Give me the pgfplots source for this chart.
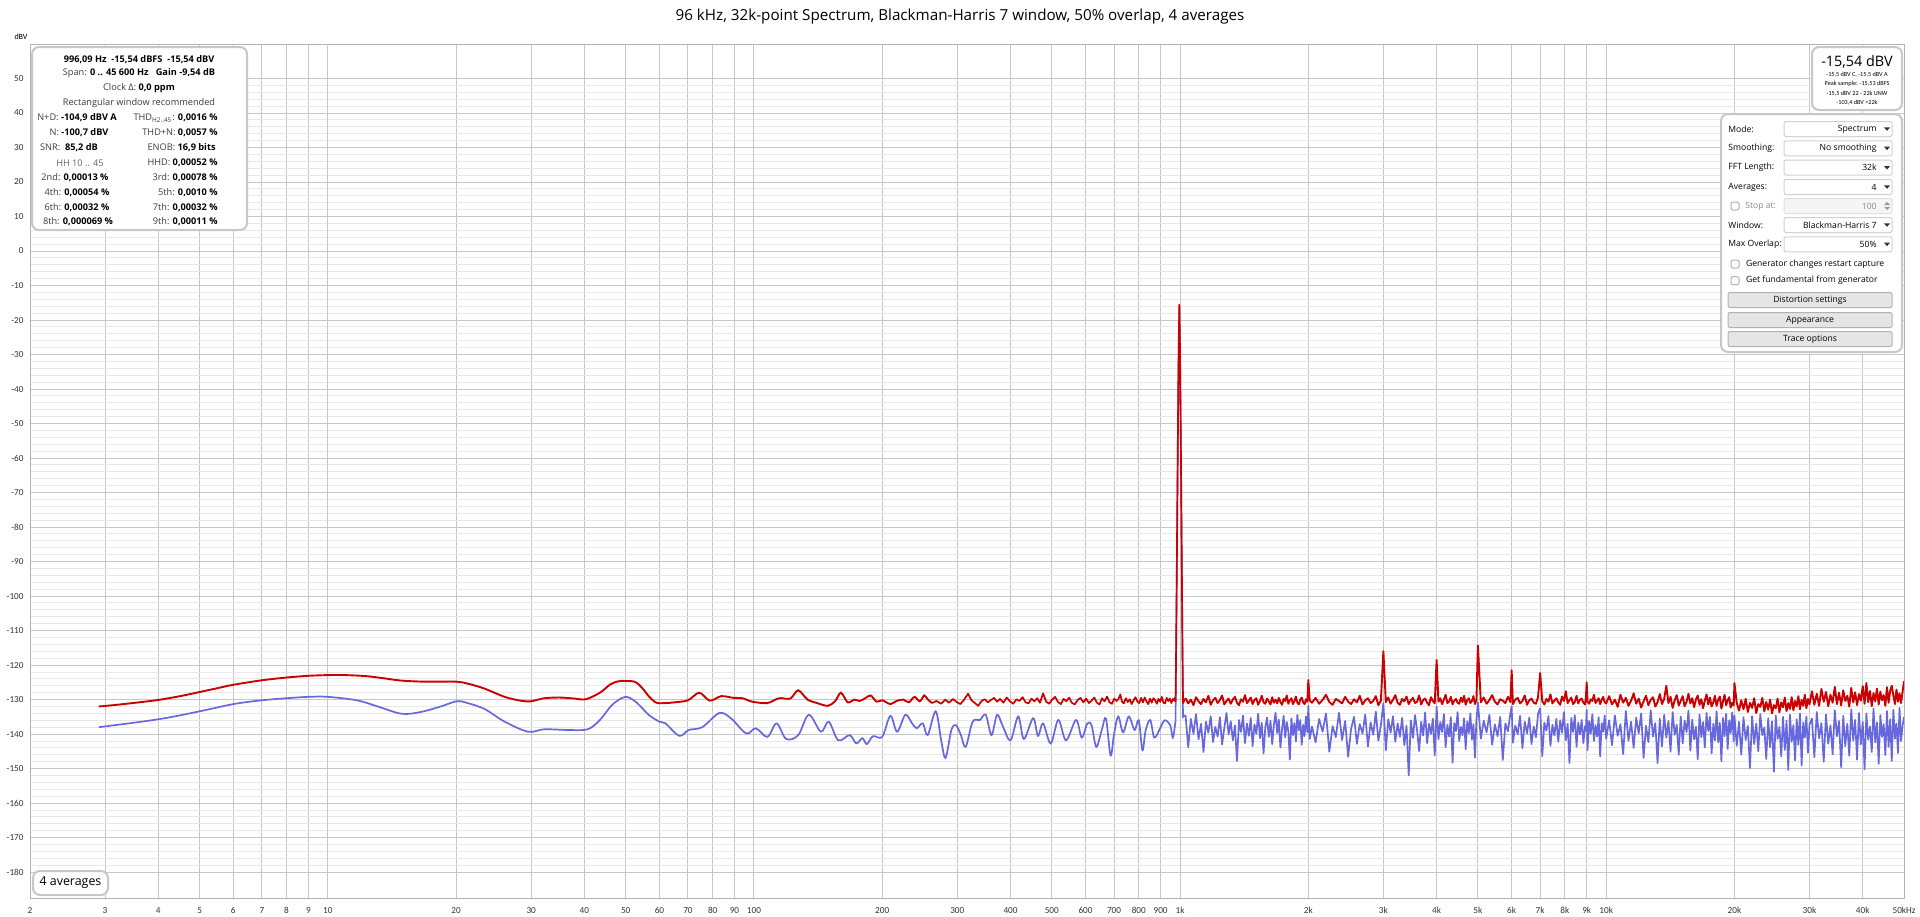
\documentclass[border=0pt]{standalone}
\usepackage{fontspec}
\setmainfont{Open Sans}
\newfontfamily\tickfont{Carlito}
\usepackage{pgfplots}
\usepackage{pgfplotstable}
\pgfplotsset{compat=1.18}
\definecolor{rewred}{RGB}{204,0,0}
\definecolor{rewblue}{RGB}{104,104,222}
\definecolor{lbl}{RGB}{60,60,60}

% low-frequency red (smooth part)
\pgfplotstableread{
f v
2.9 -132.0
3.2 -131.5
3.6 -130.8
4 -130.1
4.5 -129.0
5 -127.8
5.5 -126.7
6 -125.7
7 -124.4
8 -123.6
9 -123.1
10 -122.9
11 -122.9
12.3 -123.2
13.5 -123.8
14.9 -124.5
16.9 -124.8
20 -124.8
21.5 -125.5
23.3 -126.8
26 -129.2
28.3 -130.3
29.9 -130.5
32.2 -129.6
35 -129.4
38 -129.7
40.3 -129.9
43.5 -128.0
46 -125.6
48 -124.7
50 -124.6
52.7 -124.9
55 -127.0
56.6 -129.0
59 -130.9
62 -131.0
65 -130.8
70 -130.2
74.4 -128.0
78.8 -130.3
83.8 -129.0
89.6 -129.5
94 -129.6
99 -130.6
107.5 -131.0
114.4 -129.6
121.7 -129.7
127 -127.3
133.6 -130.0
140.7 -131.0
149 -131.8
155 -130.5
160 -128.0
166 -130.8
172 -130.0
177 -130.4
183 -129.5
188 -128.8
194 -130.6
200 -130.2
209 -131.3
216 -130.4
224 -130.0
231 -130.8
238 -129.2
245 -130.5
251 -128.8
256 -130.0
262 -131.0
}\redlow

% red 262 Hz .. 1 kHz incl. fundamental
\pgfplotstableread{
f v
262 -131.0
268 -130.4
275 -131.2
281 -130.0
287 -130.9
293 -129.8
299 -130.7
305 -131.3
311 -130.1
318 -128.3
324 -130.2
330 -131.0
336 -131.8
342 -130.4
348 -129.9
354 -130.8
360 -130.1
366 -129.5
372 -130.6
378 -129.8
385 -130.9
392 -129.4
399 -130.5
406 -131.2
413 -129.9
420 -130.4
427 -129.3
434 -130.8
441 -131.1
448 -129.7
455 -130.5
462 -129.6
469 -130.9
477 -128.2
485 -130.6
493 -131.2
501 -130.0
509 -129.2
517 -130.7
525 -131.3
533 -129.8
541 -130.5
549 -129.4
557 -130.9
566 -131.4
575 -130.1
584 -129.5
593 -130.8
602 -129.7
611 -131.0
620 -130.3
629 -129.4
638 -130.9
647 -131.4
656 -129.6
665 -130.5
674 -129.1
683 -130.8
692 -131.2
701 -129.7
710 -130.4
717 -129.8
724 -128.5
731 -130.6
738 -131.1
746 -129.6
754 -130.7
762 -129.9
770 -131.3
778 -130.2
786 -129.3
794 -130.6
802 -131.0
810 -129.5
818 -130.8
826 -129.4
834 -130.5
842 -131.3
850 -129.7
858 -130.9
866 -129.6
874 -130.2
882 -131.2
890 -129.8
898 -130.6
906 -129.2
914 -130.9
922 -131.1
930 -129.5
938 -130.4
946 -129.7
954 -131.0
962 -129.8
968 -130.3
972 -129.5
976 -130.5
979 -115
982 -95
985 -75
988 -55
991 -36
993.5 -24
996.09 -15.54
998.5 -24
1001 -36
1004 -55
1007 -75
1010 -95
1013 -115
1016 -131.0
1030 -129.6
}\redmid

% blue 2.9 Hz .. 980 Hz (smooth)
\pgfplotstableread{
f v
2.9 -138.0
4 -135.7
5 -133.4
6 -131.3
7 -130.2
8 -129.6
9 -129.2
10 -129.2
11.7 -130.2
13.1 -132.0
14.9 -134.1
16.5 -133.6
18.4 -132.0
20 -130.5
21 -130.8
23.3 -132.7
26 -136.4
29.5 -139.3
32.2 -138.6
36.7 -138.8
40.7 -138.6
43.5 -135.9
46.5 -131.5
50 -129.2
53.2 -131.0
56.6 -134.4
60 -136.4
62 -136.9
66.8 -140.5
70.3 -138.8
75.6 -138.0
82.9 -133.9
88.3 -135.4
95.9 -139.8
101 -138.3
107.5 -140.8
113 -136.9
119 -141.4
127 -140.3
134.5 -134.4
143.6 -139.3
149.8 -136.4
157.7 -141.8
167.8 -140.3
173.8 -142.7
179.7 -141.2
184 -142.9
190.3 -140.6
200 -140.8
209 -134.7
216.8 -139.3
226.6 -134.4
235 -136.9
241 -138.3
249 -136.9
255.7 -140.3
267 -133.4
275 -141.8
281.6 -146.9
290.6 -138.8
298 -137.4
306 -140.3
314 -143.7
326 -136.4
339 -135.9
350 -134.4
361 -140.3
372 -134.4
384 -137.8
400 -141.8
417 -134.9
430 -141.4
452 -135.4
464 -140.5
477 -136.9
497 -142.7
518 -135.9
540 -141.8
570 -135.9
588 -141.0
606 -136.9
620 -137.5
636 -143.7
655 -138.8
670 -135.5
687 -146.2
700 -140.0
716 -134.9
735 -139.5
758 -134.9
782 -138.8
800 -136.0
816 -144.7
830 -139.0
851 -135.9
870 -141.0
898 -138.3
920 -136.0
948 -137.4
962 -141.0
976 -136.0
}\bluelow

\pgfplotstableread{
f v
976 -136.0
979 -115.5
982 -95.5
985 -75.5
988 -55.5
991 -36.5
993.5 -24.5
996.09 -16.0
998.5 -24.5
1001 -36.5
1004 -55.5
1007 -75.5
1010 -95.5
1013 -115.5
1016 -135.0
1030 -134.5
}\bluepeak

% 1 kHz .. 50 kHz: f, red, blue
\pgfplotstableread{
f r b
1030 -129.6 -134.5
1045 -131.1 -143.8
1060 -130.0 -135.6
1075 -131.6 -139.9
1090 -129.3 -134.2
1105 -130.5 -141.5
1120 -131.3 -137.0
1135 -129.8 -145.2
1150 -130.8 -136.4
1165 -128.9 -139.6
1180 -131.5 -134.8
1195 -130.2 -142.3
1210 -129.5 -137.9
1225 -131.0 -140.7
1240 -130.1 -135.1
1255 -128.8 -143.0
1270 -131.4 -138.2
1285 -130.4 -133.9
1300 -129.7 -140.1
1315 -131.2 -136.3
1330 -130.0 -141.8
1345 -129.2 -137.5
1360 -130.9 -147.8
1375 -131.6 -135.9
1390 -129.9 -139.4
1405 -130.6 -134.6
1420 -128.7 -142.6
1435 -131.0 -136.9
1450 -130.3 -140.5
1465 -129.4 -135.3
1480 -131.3 -143.5
1495 -130.1 -137.2
1510 -129.6 -139.9
1525 -131.5 -134.1
1540 -130.4 -141.2
1555 -128.9 -136.7
1570 -130.8 -145.6
1585 -131.2 -138.0
1600 -129.7 -135.2
1615 -130.5 -140.8
1630 -131.4 -136.1
1645 -129.3 -142.9
1660 -130.9 -137.4
1675 -130.0 -133.8
1690 -131.1 -139.7
1705 -129.5 -135.8
1720 -130.7 -143.9
1735 -131.5 -138.6
1750 -129.8 -134.7
1765 -130.4 -141.0
1780 -128.8 -136.5
1795 -131.2 -139.2
1810 -130.2 -147.4
1825 -129.6 -135.4
1840 -131.3 -140.3
1855 -130.5 -136.8
1870 -129.1 -142.1
1885 -130.9 -134.4
1900 -131.4 -138.9
1915 -130.0 -135.9
1930 -129.4 -143.1
1945 -130.8 -137.3
1960 -131.3 -140.6
1975 -129.9 -134.9
1990 -130.6 -139.5
2000 -124.3 -131.8
2015 -130.3 -141.4
2040 -130.9 -137.8
2080 -129.5 -142.4
2120 -131.2 -135.6
2160 -130.1 -139.3
2200 -128.6 -134.0
2240 -130.7 -145.1
2280 -131.5 -137.7
2320 -129.8 -140.9
2360 -130.4 -133.8
2400 -131.1 -141.7
2440 -129.2 -136.2
2480 -130.6 -146.6
2520 -131.3 -138.4
2560 -129.9 -135.0
2600 -130.8 -142.8
2640 -128.9 -137.1
2680 -131.4 -139.8
2720 -130.2 -134.3
2760 -129.6 -143.6
2800 -131.0 -136.6
2840 -130.4 -140.2
2880 -129.0 -133.5
2920 -131.6 -141.9
2960 -130.3 -137.4
3000 -116.0 -131.0
3040 -130.7 -144.7
3080 -129.4 -135.7
3120 -131.2 -139.6
3160 -130.0 -134.8
3200 -128.7 -142.2
3240 -130.9 -136.9
3280 -131.5 -140.8
3320 -129.8 -135.3
3360 -130.5 -143.2
3400 -129.1 -137.6
3440 -131.3 -152.0
3480 -130.2 -136.0
3520 -129.5 -141.1
3560 -131.0 -134.5
3600 -130.6 -139.0
3640 -128.8 -144.9
3680 -131.4 -136.4
3720 -130.1 -140.4
3760 -129.7 -133.7
3800 -130.9 -142.6
3840 -131.6 -137.0
3880 -129.3 -139.9
3920 -130.4 -135.5
3960 -131.1 -146.2
4000 -118.5 -132.0
4040 -130.6 -141.5
4080 -129.6 -136.5
4120 -131.3 -139.4
4160 -130.0 -134.2
4200 -128.6 -143.8
4240 -131.0 -137.3
4280 -130.5 -140.7
4320 -129.2 -135.1
4360 -131.4 -148.3
4400 -130.3 -136.8
4440 -129.8 -139.1
4480 -130.9 -133.6
4520 -131.2 -142.0
4560 -129.4 -137.9
4600 -130.7 -140.3
4640 -128.9 -135.4
4680 -131.5 -144.4
4720 -130.1 -136.3
4760 -129.6 -139.7
4800 -131.0 -134.0
4840 -130.4 -141.6
4880 -129.0 -137.1
4920 -131.3 -146.8
4960 -130.2 -135.8
5000 -114.3 -130.8
5080 -130.8 -141.3
5160 -129.4 -136.1
5240 -131.2 -139.5
5320 -130.1 -134.4
5400 -128.7 -143.1
5480 -130.6 -137.2
5560 -131.4 -140.6
5640 -129.9 -135.0
5720 -130.3 -147.5
5800 -131.0 -136.9
5880 -129.2 -139.2
5960 -130.7 -133.9
6000 -121.5 -132.0
6040 -131.3 -142.5
6120 -130.0 -137.5
6200 -129.5 -140.0
6280 -131.1 -134.7
6360 -130.4 -144.1
6440 -128.8 -136.4
6520 -131.5 -139.8
6600 -130.2 -135.2
6680 -129.7 -142.9
6760 -130.9 -137.8
6840 -131.2 -140.9
6920 -129.3 -134.1
7000 -122.3 -132.5
7080 -130.5 -146.4
7160 -131.4 -136.7
7240 -129.8 -139.0
7320 -130.6 -134.8
7400 -128.5 -143.4
7480 -131.1 -137.3
7560 -130.3 -140.4
7640 -129.6 -135.6
7720 -130.8 -142.2
7800 -131.5 -136.0
7880 -129.1 -139.6
7960 -130.4 -133.6
8040 -127.6 -141.8
8120 -131.0 -137.0
8200 -130.2 -148.4
8280 -129.4 -135.3
8360 -131.3 -139.4
8440 -130.7 -134.5
8520 -128.9 -143.7
8600 -131.1 -136.6
8680 -130.0 -140.1
8760 -129.7 -135.9
8840 -130.9 -142.6
8920 -131.4 -137.7
8960 -129.5 -139.0
9000 -125.0 -133.0
9040 -130.6 -144.6
9120 -131.2 -136.2
9200 -129.9 -139.9
9280 -130.4 -134.2
9360 -128.6 -142.0
9440 -131.0 -137.4
9520 -130.3 -140.7
9600 -129.6 -135.1
9680 -131.3 -146.5
9760 -130.1 -136.8
9840 -129.2 -139.3
9920 -130.8 -134.6
10000 -131.1 -141.4
10160 -129.0 -136.0
10320 -131.4 -143.2
10480 -130.0 -134.6
10640 -132.1 -140.5
10800 -128.6 -137.1
10960 -130.9 -145.8
11120 -129.5 -133.3
11280 -131.8 -141.9
11440 -130.3 -136.4
11600 -128.2 -144.0
11760 -131.2 -135.2
11920 -129.7 -139.8
12080 -132.3 -134.0
12240 -130.5 -146.9
12400 -128.9 -137.6
12560 -131.6 -142.3
12720 -130.1 -133.1
12880 -129.3 -140.7
13040 -132.0 -136.8
13200 -130.7 -148.4
13360 -128.4 -135.5
13520 -131.3 -143.6
13680 -129.8 -134.4
13840 -126.0 -141.0
14000 -131.0 -136.2
14160 -129.2 -145.1
14320 -132.4 -133.6
14480 -130.2 -140.2
14640 -128.7 -137.3
14800 -131.7 -146.0
14960 -130.4 -134.9
15120 -129.0 -142.7
15280 -131.9 -136.1
15440 -130.6 -139.4
15600 -128.3 -133.2
15760 -131.1 -144.8
15920 -129.6 -135.8
16080 -132.2 -141.5
16240 -130.0 -137.9
16400 -128.8 -147.3
16560 -131.5 -134.3
16720 -129.9 -140.9
16880 -132.5 -136.5
17040 -130.3 -143.9
17200 -128.5 -133.9
17360 -131.4 -139.1
17520 -129.4 -135.0
17680 -132.0 -145.6
17840 -130.8 -137.0
18000 -128.9 -141.8
18160 -131.8 -133.4
18320 -130.1 -142.4
18480 -129.1 -136.7
18640 -132.6 -147.9
18800 -130.5 -135.3
18960 -128.6 -140.6
19120 -131.6 -134.1
19280 -130.2 -144.3
19440 -129.3 -136.0
19600 -132.3 -139.7
19760 -130.9 -133.7
19920 -131.7 -142.1
20000 -125.2 -134.6
20250 -131.0 -143.4
20500 -133.2 -136.4
20750 -130.2 -146.0
21000 -132.8 -135.1
21250 -129.8 -141.7
21500 -133.6 -137.6
21750 -130.9 -149.8
22000 -132.4 -134.8
22250 -129.6 -142.9
22500 -133.9 -136.9
22750 -131.3 -145.0
23000 -132.1 -134.2
23250 -129.5 -140.3
23500 -133.4 -138.1
23750 -130.7 -147.2
24000 -132.9 -135.4
24250 -130.0 -143.8
24500 -134.0 -136.3
24750 -131.6 -150.9
25000 -132.5 -134.6
25250 -129.7 -141.4
25500 -133.7 -137.9
25750 -130.8 -146.5
26000 -132.2 -135.0
26250 -129.4 -144.6
26500 -133.3 -136.1
26750 -131.0 -150.4
27000 -132.7 -134.4
27250 -129.3 -142.2
27500 -133.1 -137.4
27750 -130.4 -147.6
28000 -132.0 -135.7
28250 -129.0 -143.1
28500 -132.8 -134.0
28750 -130.1 -149.1
29000 -131.8 -136.6
29250 -128.6 -141.0
29500 -132.5 -134.9
29750 -129.8 -145.4
30000 -131.4 -137.2
30400 -127.6 -135.5
30800 -131.5 -146.7
31200 -128.3 -133.6
31600 -131.8 -141.2
32000 -126.9 -136.8
32400 -130.6 -148.0
32800 -127.8 -134.3
33200 -131.9 -142.8
33600 -128.6 -137.5
34000 -130.9 -145.9
34400 -126.3 -133.1
34800 -131.3 -140.6
35200 -128.0 -136.2
35600 -131.7 -149.6
36000 -127.3 -134.7
36400 -130.4 -143.5
36800 -128.9 -137.0
37200 -132.0 -146.3
37600 -126.6 -132.8
38000 -130.8 -141.9
38400 -127.9 -135.9
38800 -131.6 -147.4
39200 -128.4 -133.9
39600 -130.3 -143.0
40000 -126.1 -136.4
40400 -131.2 -150.2
40800 -125.2 -134.0
41200 -130.7 -141.6
41600 -127.5 -137.8
42000 -131.9 -145.2
42400 -128.1 -132.6
42800 -130.5 -142.4
43200 -126.8 -136.6
43600 -131.4 -148.6
44000 -127.7 -134.5
44400 -130.2 -140.8
44800 -128.7 -137.1
45200 -131.8 -146.1
45600 -126.4 -133.3
46000 -130.9 -143.7
46400 -127.4 -135.7
46800 -126.0 -147.8
47200 -128.8 -133.0
47600 -131.3 -141.3
48000 -127.1 -136.9
48400 -130.6 -145.5
48800 -128.2 -132.4
49200 -131.0 -142.0
49600 -127.8 -137.6
50000 -124.7 -135.0
}\hightab

\begin{document}
\begin{tikzpicture}
\path[use as bounding box] (0,0) rectangle (960pt,-458pt);
\begin{axis}[
  at={(15pt,-449pt)}, anchor=south west,
  scale only axis, width=937pt, height=427pt,
  xmode=log, log basis x=10,
  xmin=2, xmax=50000, ymin=-187.5, ymax=60,
  xtick={2,3,4,5,6,7,8,9,10,20,30,40,50,60,70,80,90,100,200,300,400,500,600,700,800,900,1000,2000,3000,4000,5000,6000,7000,8000,9000,10000,20000,30000,40000,50000},
  xticklabels={2,3,4,5,6,7,8,9,10,20,30,40,50,60,70,80,90,100,200,300,400,500,600,700,800,900,1k,2k,3k,4k,5k,6k,7k,8k,9k,10k,20k,30k,40k,50kHz},
  minor xtick={},
  extra x ticks={10,100,1000,10000},
  extra x tick labels={{},{},{},{}},
  extra x tick style={grid style={draw=black!45, line width=0.5pt}},
  ytick={-180,-170,...,50},
  yticklabels={-180,-170,-160,-150,-140,-130,-120,-110,-100,-90,-80,-70,-60,-50,-40,-30,-20,-10,0,10,20,30,40,50},
  minor y tick num=4,
  grid=both,
  major grid style={draw=black!22, line width=0.5pt},
  minor grid style={draw=black!9, line width=0.5pt},
  major tick length=0pt, minor tick length=0pt,
  axis line style={draw=black!30, line width=0.5pt},
  tick label style={font=\tickfont\fontsize{4.6}{5}\selectfont, text=black!80},
  xticklabel style={yshift=-1.2pt},
  yticklabel style={xshift=0.3pt},
]
\addplot[rewblue, line width=0.85pt, smooth, tension=0.55] table[x=f,y=v] {\bluelow};
\addplot[rewblue, line width=0.8pt] table[x=f,y=v] {\bluepeak};
\addplot[rewblue, line width=0.85pt, line join=round] table[x=f,y=b] {\hightab};
\addplot[rewred, line width=0.95pt, smooth, tension=0.5] table[x=f,y=v] {\redlow};
\addplot[rewred, line width=0.85pt, line join=round] table[x=f,y=v] {\redmid};
\addplot[rewred, line width=0.95pt, line join=round] table[x=f,y=r] {\hightab};
\end{axis}

% title
\node[font=\fontsize{7.6}{9}\selectfont, inner sep=0pt] at (480pt,-8.5pt) {96 kHz, 32k-point Spectrum, Blackman-Harris 7 window, 50\% overlap, 4 averages};

\begin{scope}[x=0.5pt, y=-0.5pt]
% unit label
\node[font=\tickfont\fontsize{4}{5}\selectfont, inner sep=0pt] at (21,37) {dBV};

% info box
\draw[rounded corners=3.5pt, draw=black!22, line width=1pt, fill=white] (32,47) rectangle (247,230);
\begin{scope}[every node/.style={inner sep=0pt, font=\fontsize{4.6}{5.5}\selectfont}]
\node at (139,59.3) {\bfseries 996,09 Hz \ -15,54 dBFS \ -15,54 dBV};
\node at (139,73.3) {\textcolor{lbl}{Span:} \textbf{0 .. 45 600 Hz} \ \ \textbf{Gain -9,54 dB}};
\node at (139,88.5) {\textcolor{lbl}{Clock Δ:} \textbf{0,0 ppm}};
\node at (139,103.3) {\textcolor{lbl}{Rectangular window recommended}};
\node at (77,118) {\textcolor{lbl}{N+D:} \textbf{-104,9 dBV A}};
\node at (79,133) {\textcolor{lbl}{N:} \textbf{-100,7 dBV}};
\node at (69,148) {\textcolor{lbl}{SNR:} \ \textbf{85,2 dB}};
\node at (80,163) {\textcolor{black!60}{HH 10 .. 45}};
\node at (75,178) {\textcolor{lbl}{2nd:} \textbf{0,00013 \%}};
\node at (77,193) {\textcolor{lbl}{4th:} \textbf{0,00054 \%}};
\node at (77,208) {\textcolor{lbl}{6th:} \textbf{0,00032 \%}};
\node at (78,222) {\textcolor{lbl}{8th:} \textbf{0,000069 \%}};
\node[anchor=east] at (218,118) {\textcolor{lbl}{THD\textsubscript{H2..45}:} \textbf{0,0016 \%}};
\node[anchor=east] at (218,133) {\textcolor{lbl}{THD+N:} \textbf{0,0057 \%}};
\node[anchor=east] at (216,148) {\textcolor{lbl}{ENOB:} \textbf{16,9 bits}};
\node[anchor=east] at (218,163) {\textcolor{lbl}{HHD:} \textbf{0,00052 \%}};
\node[anchor=east] at (218,178) {\textcolor{lbl}{3rd:} \textbf{0,00078 \%}};
\node[anchor=east] at (218,193) {\textcolor{lbl}{5th:} \textbf{0,0010 \%}};
\node[anchor=east] at (218,208) {\textcolor{lbl}{7th:} \textbf{0,00032 \%}};
\node[anchor=east] at (218,222) {\textcolor{lbl}{9th:} \textbf{0,00011 \%}};
\end{scope}

% readout box
\draw[rounded corners=3.5pt, draw=black!22, line width=1pt, fill=white] (1812,47) rectangle (1902,110);
\node[inner sep=0pt, font=\fontsize{7.2}{8}\selectfont] at (1857,61.5) {-15,54 dBV};
\begin{scope}[every node/.style={inner sep=0pt, font=\tickfont\fontsize{3.1}{3.5}\selectfont}]
\node at (1857,74.3) {-15,5 dBV C, -15,5 dBV A};
\node at (1857,84) {Peak sample: -15,53 dBFS};
\node at (1857,93.7) {-15,5 dBV 22 - 22k UNW};
\node at (1857,103) {-103,4 dBV >22k};
\end{scope}

% control panel
\draw[rounded corners=3.5pt, draw=black!22, line width=1pt, fill=white] (1721,114) rectangle (1902,352);
\begin{scope}[every node/.style={inner sep=0pt, font=\fontsize{4.3}{5}\selectfont}]
\foreach \yy/\lab/\val in {129/Mode:/Spectrum, 148.3/Smoothing:/No smoothing, 167.7/FFT Length:/32k, 187/Averages:/4, 225/Window:/Blackman-Harris 7, 244.3/Max Overlap:/50\%}{
  \node[anchor=west] at (1728,\yy) {\lab};
  \draw[draw=black!18, fill=white, rounded corners=1pt, line width=0.5pt] (1784,\yy-7.5) rectangle (1892,\yy+7.5);
  \node[anchor=east] at (1877,\yy) {\val};
  \fill[black!80] (1884,\yy-1.6) -- (1890,\yy-1.6) -- (1887,\yy+1.8) -- cycle;
}
% stop at (disabled)
\draw[draw=black!30, fill=white, rounded corners=1pt, line width=0.5pt] (1731,202) rectangle (1739,210);
\node[anchor=west, text=black!45] at (1745,206) {Stop at:};
\draw[draw=black!12, fill=black!4, rounded corners=1pt, line width=0.5pt] (1784,198.5) rectangle (1892,213.5);
\node[anchor=east, text=black!45] at (1877,206) {100};
\fill[black!40] (1884,205) -- (1890,205) -- (1887,202) -- cycle;
\fill[black!40] (1884,207) -- (1890,207) -- (1887,210) -- cycle;
% checkboxes
\draw[draw=black!30, fill=white, rounded corners=1pt, line width=0.5pt] (1731,260) rectangle (1739,268);
\node[anchor=west] at (1745.7,264) {Generator changes restart capture};
\draw[draw=black!30, fill=white, rounded corners=1pt, line width=0.5pt] (1731,276.7) rectangle (1739,284.7);
\node[anchor=west] at (1745.7,280.7) {Get fundamental from generator};
% buttons
\foreach \yy/\lab in {300/Distortion settings, 320/Appearance, 339/Trace options}{
  \draw[draw=black!30, fill=black!10, rounded corners=1pt, line width=0.5pt] (1728,\yy-7.5) rectangle (1892,\yy+7.5);
  \node at (1810,\yy) {\lab};
}
\end{scope}

% averages box
\draw[rounded corners=3.5pt, draw=black!22, line width=1pt, fill=white] (33,871) rectangle (108,895);
\node[inner sep=0pt, font=\fontsize{6.2}{7}\selectfont] at (70.5,883) {4 averages};
\end{scope}
\end{tikzpicture}
\end{document}
